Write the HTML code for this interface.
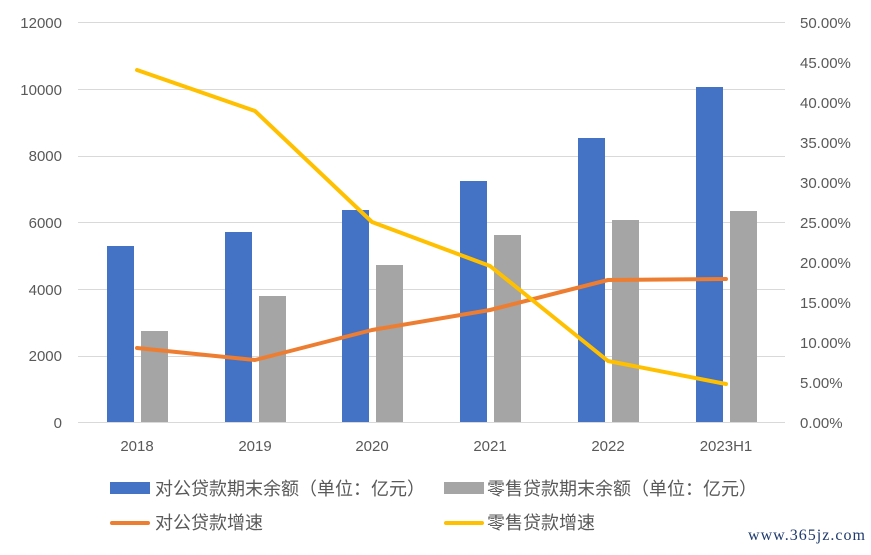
<!DOCTYPE html>
<html><head><meta charset="utf-8"><style>
body{margin:0;background:#fff;width:871px;height:550px;overflow:hidden}
text{font-family:"Liberation Sans","Noto Sans CJK SC",sans-serif;fill:#595959}
</style></head><body>
<svg width="871" height="550" xmlns="http://www.w3.org/2000/svg">
<g stroke="#d9d9d9" stroke-width="1">
<line x1="78" x2="785" y1="22.5" y2="22.5"/><line x1="78" x2="785" y1="89.5" y2="89.5"/>
<line x1="78" x2="785" y1="156.5" y2="156.5"/><line x1="78" x2="785" y1="222.5" y2="222.5"/>
<line x1="78" x2="785" y1="289.5" y2="289.5"/><line x1="78" x2="785" y1="356.5" y2="356.5"/>
<line x1="78" x2="785" y1="422.5" y2="422.5"/>
</g>
<g font-size="15" text-anchor="end">
<text x="62" y="28">12000</text><text x="62" y="95">10000</text><text x="62" y="161">8000</text>
<text x="62" y="228">6000</text><text x="62" y="295">4000</text><text x="62" y="361">2000</text><text x="62" y="428">0</text>
</g>
<g font-size="15" text-anchor="start">
<text x="800" y="28">50.00%</text><text x="800" y="68">45.00%</text><text x="800" y="108">40.00%</text>
<text x="800" y="148">35.00%</text><text x="800" y="188">30.00%</text><text x="800" y="228">25.00%</text>
<text x="800" y="268">20.00%</text><text x="800" y="308">15.00%</text><text x="800" y="348">10.00%</text>
<text x="800" y="388">5.00%</text><text x="800" y="428">0.00%</text>
</g>
<g fill="#4472c4">
<rect x="107" y="246" width="27" height="176"/><rect x="225" y="232" width="27" height="190"/>
<rect x="342" y="210" width="27" height="212"/><rect x="460" y="181" width="27" height="241"/>
<rect x="578" y="138" width="27" height="284"/><rect x="696" y="87" width="27" height="335"/>
</g>
<g fill="#a5a5a5">
<rect x="141" y="331" width="27" height="91"/><rect x="259" y="296" width="27" height="126"/>
<rect x="376" y="265" width="27" height="157"/><rect x="494" y="235" width="27" height="187"/>
<rect x="612" y="220" width="27" height="202"/><rect x="730" y="211" width="27" height="211"/>
</g>
<polyline fill="none" stroke="#ed7d31" stroke-width="4" stroke-linejoin="round" stroke-linecap="round" points="137,348 255,360 372,330 490,310 608,280 726,279"/>
<polyline fill="none" stroke="#ffc000" stroke-width="4" stroke-linejoin="round" stroke-linecap="round" points="137,70 255,111 372,222 490,266 608,361 726,384"/>
<g font-size="15" text-anchor="middle">
<text x="137" y="451">2018</text><text x="255" y="451">2019</text><text x="372" y="451">2020</text>
<text x="490" y="451">2021</text><text x="608" y="451">2022</text><text x="726" y="451">2023H1</text>
</g>
<rect x="110" y="482" width="40" height="12" fill="#4472c4"/>
<text x="155" y="495" font-size="18">对公贷款期末余额（单位：亿元）</text>
<rect x="444" y="482" width="40" height="12" fill="#a5a5a5"/>
<text x="487" y="495" font-size="18">零售贷款期末余额（单位：亿元）</text>
<line x1="112" x2="148" y1="523" y2="523" stroke="#ed7d31" stroke-width="4" stroke-linecap="round"/>
<text x="155" y="529" font-size="18">对公贷款增速</text>
<line x1="446" x2="482" y1="523" y2="523" stroke="#ffc000" stroke-width="4" stroke-linecap="round"/>
<text x="487" y="529" font-size="18">零售贷款增速</text>
<text x="748" y="540" font-size="16" textLength="117" style="fill:#1f3a6e;font-family:'Liberation Serif',serif">www.365jz.com</text>
</svg>
</body></html>
